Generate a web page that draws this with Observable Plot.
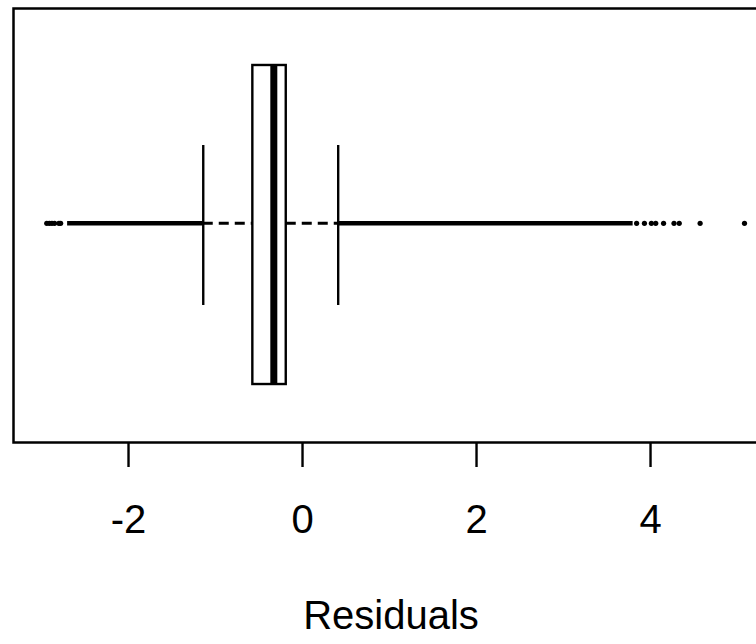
<!DOCTYPE html>
<html>
<head>
<meta charset="utf-8">
<script src="https://cdn.jsdelivr.net/npm/d3@7"></script>
<script src="https://cdn.jsdelivr.net/npm/@observablehq/plot@0.6"></script>
<style>
  html, body { margin: 0; padding: 0; background: white; overflow: hidden; width: 756px; height: 644px; }
  #chart svg { display: block; max-width: none !important; width: 768px !important; height: 644px !important; }
</style>
</head>
<body>
<div id="chart"></div>
<script>
// Residuals boxplot (horizontal)
const tickValues = [-2, 0, 2, 4];
const quartiles = [-0.571, -0.33, -0.187];          // Q1, median, Q3
const whiskers = [-1.141, 0.41];                      // lower / upper whisker ends
const denseOutlierRuns = [[-2.70, -1.141], [0.41, 3.80]]; // outliers so dense they form a line
const outliers = [-2.94, -2.91, -2.88, -2.85, -2.80, -2.78,
                  3.84, 3.93, 4.01, 4.06, 4.15, 4.27, 4.33, 4.57, 5.08];
const axisLabel = ["Residuals"];

const yMid = 0.505;
const chart = Plot.plot({
  width: 768,
  height: 644,
  marginLeft: 13,
  marginRight: 0,
  marginTop: 8,
  marginBottom: 202,
  x: {domain: [-3.322, 5.356]},
  y: {domain: [0, 1], axis: null},
  style: {fontFamily: "'Liberation Sans', Arial, sans-serif", fontSize: "40px", color: "black", background: "white"},
  marks: [
    Plot.ruleY([[whiskers[0], quartiles[0]], [quartiles[2], whiskers[1]]],
      {x1: d => d[0], x2: d => d[1], y: yMid, stroke: "black", strokeWidth: 3, strokeDasharray: "10,6"}),
    Plot.ruleY(denseOutlierRuns, {x1: d => d[0], x2: d => d[1], y: yMid, stroke: "black", strokeWidth: 4.5}),
    Plot.dot(outliers, {x: d => d, y: yMid, r: 2.6, fill: "black", stroke: "none"}),
    Plot.rect([quartiles], {x1: d => d[0], x2: d => d[2], y1: 0.1336, y2: 0.8687, fill: "white", stroke: "black", strokeWidth: 2.4}),
    Plot.ruleX([quartiles[1]], {y1: 0.1336, y2: 0.8687, stroke: "black", strokeWidth: 7}),
    Plot.ruleX(whiskers, {y1: 0.3157, y2: 0.6843, stroke: "black", strokeWidth: 2.4}),
    Plot.frame({stroke: "black", strokeWidth: 2.5}),
    Plot.axisX({ticks: tickValues, tickSize: 25, tickPadding: 37, fontSize: 40, strokeWidth: 2.4,
      tickFormat: d => String(d), label: null, fill: "black"}),
    Plot.text(axisLabel, {text: d => d, frameAnchor: "bottom", dy: 174, lineAnchor: "middle", fontSize: 40, fill: "black"})
  ]
});
document.getElementById("chart").append(chart);
</script>
</body>
</html>
